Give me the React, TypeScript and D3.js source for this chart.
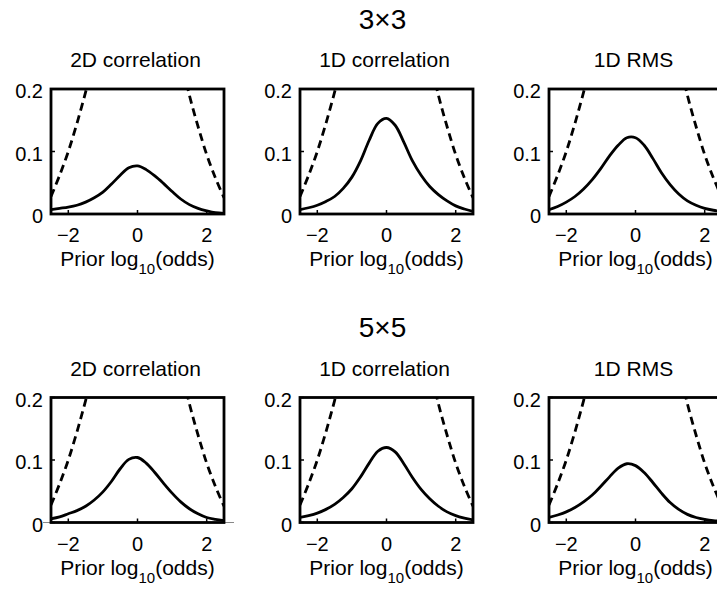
import React, { useEffect, useRef } from "react";
import * as d3 from "d3";

// sample positions along prior log10(odds)
const xs = [-2.5, -2.25, -2, -1.75, -1.5, -1.25, -1, -0.75, -0.5, -0.25, 0, 0.25, 0.5, 0.75, 1, 1.25, 1.5, 1.75, 2, 2.25, 2.5];

const gridTitles = ["3×3", "5×5"];
const methodTitles = ["2D correlation", "1D correlation", "1D RMS"];

// solid curves
const corr2D_3 = [0.007, 0.009, 0.011, 0.014, 0.019, 0.026, 0.035, 0.048, 0.062, 0.074, 0.077, 0.071, 0.061, 0.049, 0.036, 0.024, 0.015, 0.009, 0.005, 0.002, 0.001];
const corr1D_3 = [0.007, 0.010, 0.014, 0.020, 0.028, 0.041, 0.059, 0.085, 0.118, 0.145, 0.153, 0.142, 0.115, 0.085, 0.062, 0.044, 0.031, 0.021, 0.013, 0.008, 0.004];
const rms1D_3 = [0.007, 0.012, 0.019, 0.028, 0.040, 0.055, 0.073, 0.093, 0.110, 0.122, 0.122, 0.110, 0.089, 0.066, 0.047, 0.032, 0.021, 0.014, 0.009, 0.006, 0.004];
const corr2D_5 = [0.006, 0.009, 0.014, 0.019, 0.026, 0.036, 0.049, 0.066, 0.086, 0.101, 0.104, 0.095, 0.080, 0.063, 0.047, 0.033, 0.022, 0.014, 0.008, 0.005, 0.003];
const corr1D_5 = [0.008, 0.011, 0.015, 0.021, 0.029, 0.040, 0.054, 0.073, 0.095, 0.114, 0.120, 0.113, 0.094, 0.072, 0.053, 0.038, 0.026, 0.017, 0.011, 0.007, 0.004];
const rms1D_5 = [0.008, 0.012, 0.017, 0.024, 0.033, 0.044, 0.058, 0.073, 0.087, 0.094, 0.091, 0.080, 0.064, 0.047, 0.032, 0.021, 0.013, 0.008, 0.005, 0.003, 0.002];

// dashed bound, same in every panel (off scale in the middle)
const bound = [0.028, 0.062, 0.100, 0.145, 0.195, 0.25, null, null, null, null, null, null, null, null, null, 0.25, 0.19, 0.14, 0.095, 0.058, 0.026];

const solids = [
  [corr2D_3, corr1D_3, rms1D_3],
  [corr2D_5, corr1D_5, rms1D_5],
];

const xTicks = [-2, 0, 2];
const yTicks = [0, 0.1, 0.2];

export default function App() {
  const ref = useRef<SVGSVGElement>(null);

  useEffect(() => {
    const svg = d3.select(ref.current);
    svg.selectAll("*").remove();

    const panelW = 173, panelH = 125;
    const colX = [51, 300, 549];
    const rowY = [89, 397.5];
    const font = "'Liberation Sans', Arial, sans-serif";

    const x = d3.scaleLinear().domain([-2.5, 2.5]).range([0, panelW]);
    const y = d3.scaleLinear().domain([0, 0.2]).range([panelH, 0]);

    svg.append("defs").append("clipPath").attr("id", "plotclip")
      .append("rect").attr("x", 0).attr("y", 0).attr("width", panelW).attr("height", panelH);

    const line = d3.line<number | null>()
      .defined(d => d !== null)
      .x((d, i) => x(xs[i]))
      .y(d => y(d as number))
      .curve(d3.curveCatmullRom.alpha(0.5));

    gridTitles.forEach((gt, r) => {
      svg.append("text")
        .attr("x", colX[1] + panelW / 2 - 4)
        .attr("y", rowY[r] - 60.5)
        .attr("text-anchor", "middle")
        .style("font-family", font)
        .style("font-size", "28px")
        .text(gt);

      methodTitles.forEach((mt, c) => {
        const g = svg.append("g").attr("transform", "translate(" + colX[c] + "," + rowY[r] + ")");

        g.append("text")
          .attr("x", panelW / 2 - 2)
          .attr("y", -22)
          .attr("text-anchor", "middle")
          .style("font-family", font)
          .style("font-size", "21px")
          .text(mt);

        // stray zero line in the lower left panel
        if (r === 1 && c === 0) {
          g.append("line")
            .attr("x1", -8).attr("x2", panelW + 10)
            .attr("y1", y(0)).attr("y2", y(0))
            .attr("stroke", "#888").attr("stroke-width", 1);
        }

        const plot = g.append("g").attr("clip-path", "url(#plotclip)");
        plot.append("path")
          .datum(bound)
          .attr("d", line as any)
          .attr("fill", "none")
          .attr("stroke", "#000")
          .attr("stroke-width", 2.8)
          .attr("stroke-dasharray", "8,5");
        plot.append("path")
          .datum(solids[r][c])
          .attr("d", line as any)
          .attr("fill", "none")
          .attr("stroke", "#000")
          .attr("stroke-width", 2.8);

        // inward ticks
        xTicks.forEach(t => {
          g.append("line")
            .attr("x1", x(t)).attr("x2", x(t))
            .attr("y1", panelH).attr("y2", panelH - 4)
            .attr("stroke", "#000").attr("stroke-width", 1.5);
          g.append("text")
            .attr("x", x(t))
            .attr("y", panelH + 28)
            .attr("text-anchor", "middle")
            .style("font-family", font)
            .style("font-size", "20px")
            .text(t < 0 ? "\u2212" + Math.abs(t) : String(t));
        });
        yTicks.forEach(t => {
          g.append("line")
            .attr("x1", 0).attr("x2", 4)
            .attr("y1", y(t)).attr("y2", y(t))
            .attr("stroke", "#000").attr("stroke-width", 1.5);
          g.append("text")
            .attr("x", -8)
            .attr("y", y(t) + 9)
            .attr("text-anchor", "end")
            .style("font-family", font)
            .style("font-size", "20px")
            .text(String(t));
        });

        g.append("rect")
          .attr("x", 0).attr("y", 0)
          .attr("width", panelW).attr("height", panelH)
          .attr("fill", "none")
          .attr("stroke", "#000")
          .attr("stroke-width", 2.8);

        const lab = g.append("text")
          .attr("x", panelW / 2)
          .attr("y", panelH + 52)
          .attr("text-anchor", "middle")
          .style("font-family", font)
          .style("font-size", "21px");
        lab.append("tspan").text("Prior log");
        lab.append("tspan").attr("dy", 8).style("font-size", "15px").text("10");
        lab.append("tspan").attr("dy", -8).text("(odds)");
      });
    });
  }, []);

  return (
    <svg ref={ref} width={717} height={590}
      style={{ position: "absolute", left: 0, top: 0, background: "#fff" }} />
  );
}
